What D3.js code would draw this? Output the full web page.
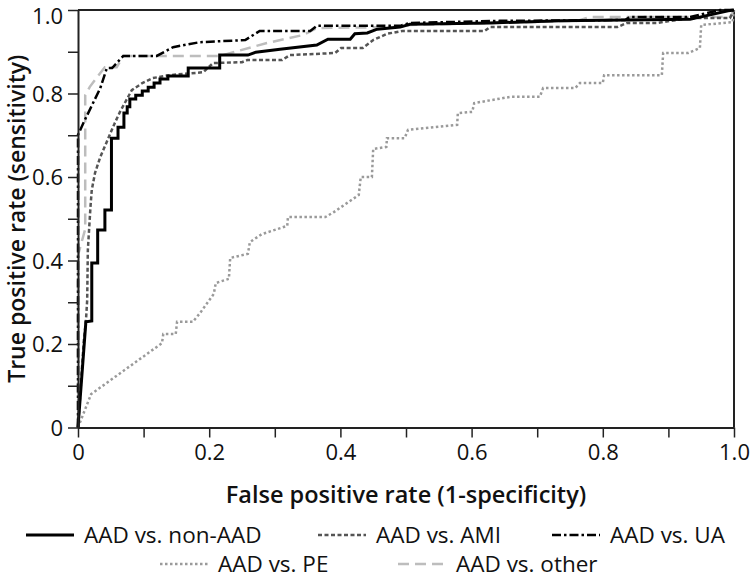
<!DOCTYPE html>
<html>
<head>
<meta charset="utf-8">
<script src="https://cdn.jsdelivr.net/npm/d3@7"></script>
<style>
  html,body{margin:0;padding:0;background:#fff;}
  svg text{font-family:"Open Sans","Noto Sans",sans-serif;fill:#111;}
</style>
</head>
<body>
<svg id="chart" width="750" height="579"></svg>
<script>
// ---- data (FPR, TPR) ----
const seriesNames = ["AAD vs. non-AAD","AAD vs. AMI","AAD vs. UA","AAD vs. PE","AAD vs. other"];

const nonAAD = [[0,0],[0.012,0.253],[0.021,0.255],[0.021,0.394],[0.030,0.394],[0.030,0.473],[0.041,0.473],[0.041,0.521],[0.051,0.521],[0.051,0.693],[0.061,0.693],[0.061,0.719],[0.070,0.719],[0.070,0.753],[0.075,0.753],[0.075,0.768],[0.079,0.768],[0.079,0.787],[0.088,0.787],[0.088,0.796],[0.098,0.796],[0.098,0.806],[0.107,0.806],[0.107,0.815],[0.116,0.815],[0.116,0.825],[0.125,0.825],[0.125,0.835],[0.137,0.835],[0.137,0.842],[0.168,0.842],[0.168,0.861],[0.216,0.861],[0.216,0.892],[0.259,0.892],[0.271,0.899],[0.308,0.906],[0.364,0.916],[0.381,0.930],[0.415,0.930],[0.422,0.943],[0.441,0.945],[0.456,0.954],[0.491,0.959],[0.506,0.966],[0.628,0.969],[0.735,0.974],[0.933,0.978],[0.948,0.983],[0.991,0.998],[1,1]];

const ami = [[0,0],[0.009,0.210],[0.012,0.253],[0.014,0.305],[0.015,0.425],[0.019,0.528],[0.021,0.569],[0.026,0.610],[0.034,0.648],[0.043,0.681],[0.056,0.729],[0.064,0.756],[0.082,0.808],[0.098,0.825],[0.114,0.837],[0.140,0.844],[0.191,0.851],[0.206,0.873],[0.250,0.875],[0.258,0.880],[0.311,0.880],[0.323,0.892],[0.392,0.897],[0.401,0.909],[0.434,0.909],[0.450,0.928],[0.471,0.943],[0.495,0.950],[0.620,0.950],[0.628,0.959],[0.822,0.959],[0.837,0.969],[0.883,0.969],[0.933,0.981],[0.994,0.981],[1,1]];

const ua = [[0,0],[0,0.701],[0.009,0.732],[0.034,0.813],[0.044,0.861],[0.052,0.861],[0.069,0.890],[0.120,0.890],[0.145,0.911],[0.186,0.923],[0.255,0.928],[0.277,0.950],[0.354,0.950],[0.364,0.962],[0.491,0.962],[0.506,0.969],[0.643,0.974],[0.834,0.976],[0.841,0.983],[0.933,0.983],[0.979,1.0],[1,1]];

const pe = [[0,0],[0.020,0.080],[0.128,0.202],[0.130,0.224],[0.149,0.224],[0.151,0.253],[0.175,0.253],[0.186,0.274],[0.207,0.320],[0.210,0.346],[0.230,0.356],[0.232,0.406],[0.259,0.416],[0.262,0.444],[0.280,0.463],[0.319,0.483],[0.320,0.504],[0.377,0.504],[0.390,0.516],[0.428,0.557],[0.431,0.600],[0.448,0.600],[0.450,0.667],[0.470,0.672],[0.471,0.693],[0.498,0.693],[0.503,0.713],[0.578,0.725],[0.579,0.753],[0.601,0.756],[0.604,0.777],[0.659,0.792],[0.704,0.792],[0.709,0.813],[0.758,0.813],[0.765,0.825],[0.800,0.825],[0.802,0.844],[0.890,0.844],[0.892,0.897],[0.930,0.897],[0.948,0.909],[0.950,0.964],[0.998,0.971],[1,1]];

const other = [[0,0],[0,0.413],[0.011,0.475],[0.011,0.796],[0.018,0.816],[0.034,0.849],[0.041,0.863],[0.059,0.863],[0.069,0.890],[0.216,0.890],[0.288,0.921],[0.343,0.940],[0.364,0.957],[0.486,0.959],[0.506,0.964],[0.761,0.974],[0.780,0.983],[0.994,0.983],[1,1]];

const xTicks = [0,0.1,0.2,0.3,0.4,0.5,0.6,0.7,0.8,0.9,1.0];
const yTicks = [0,0.1,0.2,0.3,0.4,0.5,0.6,0.7,0.8,0.9,1.0];
const tickLabels = {0:"0",0.2:"0.2",0.4:"0.4",0.6:"0.6",0.8:"0.8",1:"1.0"};

// ---- styles ----
const styles = [
  {data: nonAAD, color:"#000", width:3, dash:null},
  {data: ami, color:"#555", width:2.5, dash:"4 2.5"},
  {data: ua, color:"#000", width:2.5, dash:"9 3 2.5 3"},
  {data: pe, color:"#9a9a9a", width:2.5, dash:"2.5 2.5"},
  {data: other, color:"#bdbdbd", width:2.5, dash:"11 6"}
];

const svg = d3.select("#chart");
const x = d3.scaleLinear().domain([0,1]).range([78,734]);
const y = d3.scaleLinear().domain([0,1]).range([427.5,10]);

function fmt(d){ const k = Math.round(d*10)/10; return tickLabels[k] !== undefined ? tickLabels[k] : ""; }

// frame (top, right)
svg.append("line").attr("x1",x(0)).attr("x2",x(1)).attr("y1",y(1)).attr("y2",y(1)).attr("stroke","#222").attr("stroke-width",2);
svg.append("line").attr("x1",x(1)).attr("x2",x(1)).attr("y1",y(0)).attr("y2",y(1)).attr("stroke","#222").attr("stroke-width",2);

// curves
const line = d3.line().x(d=>x(d[0])).y(d=>y(d[1]));
const order = [3,4,1,2,0];
order.forEach(i=>{
  const s = styles[i];
  svg.append("path").datum(s.data).attr("d",line).attr("fill","none")
    .attr("stroke",s.color).attr("stroke-width",s.width)
    .attr("stroke-dasharray",s.dash).attr("stroke-linejoin","miter");
});

// axes
const gx = svg.append("g").attr("transform",`translate(0,${y(0)})`)
  .call(d3.axisBottom(x).tickValues(xTicks).tickFormat(fmt).tickSize(10).tickSizeOuter(0));
const gy = svg.append("g").attr("transform",`translate(${x(0)},0)`)
  .call(d3.axisLeft(y).tickValues(yTicks).tickFormat(fmt).tickSize(10).tickSizeOuter(0));
[gx,gy].forEach(g=>{
  g.select(".domain").attr("stroke","#222").attr("stroke-width",2);
  g.selectAll(".tick line").attr("stroke","#222").attr("stroke-width",1.5);
  g.selectAll(".tick text").attr("font-size",22).attr("fill","#111")
   .style("font-family",'"Open Sans","Noto Sans",sans-serif');
});
gx.selectAll(".tick text").attr("dy","0.75em").attr("y",16);
gy.selectAll(".tick text").attr("x",-15).attr("dy","0.36em");
// keep the top label inside the picture
gy.selectAll(".tick text").filter(d=>d===1).attr("dy","0.6em");

// axis titles
svg.append("text").attr("x",(x(0)+x(1))/2).attr("y",503).attr("text-anchor","middle")
  .attr("font-size",23.5).attr("font-weight",600).text("False positive rate (1-specificity)");
svg.append("text").attr("transform",`translate(25,${(y(0)+y(1))/2}) rotate(-90)`).attr("text-anchor","middle")
  .attr("font-size",23).attr("font-weight",600).text("True positive rate (sensitivity)");

// legend
const legendPos = [
  {lx:26, ly:535},{lx:318, ly:535},{lx:552, ly:535},{lx:160, ly:564},{lx:398, ly:564}
];
seriesNames.forEach((name,i)=>{
  const p = legendPos[i], s = styles[i];
  const g = svg.append("g").attr("transform",`translate(${p.lx},${p.ly})`);
  g.append("line").attr("x1",0).attr("x2",48).attr("y1",0).attr("y2",0)
    .attr("stroke",s.color).attr("stroke-width",s.width).attr("stroke-dasharray",s.dash);
  g.append("text").attr("x",58).attr("y",0).attr("dy","0.35em").attr("font-size",22.5).text(name);
});
</script>
</body>
</html>
